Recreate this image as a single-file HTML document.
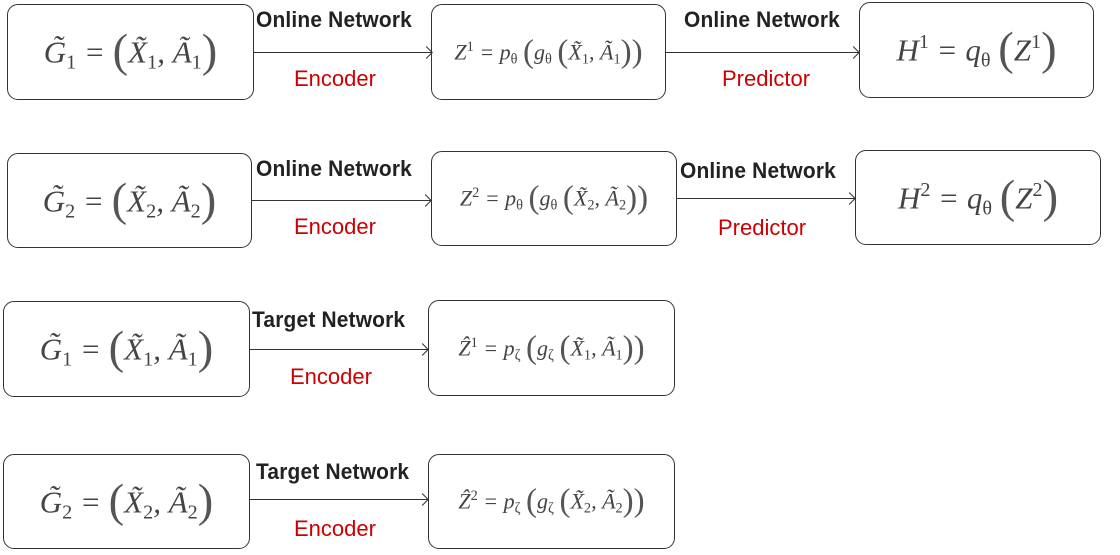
<!DOCTYPE html>
<html><head><meta charset="utf-8"><style>
body{margin:0;width:1120px;height:555px;background:#fff;position:relative;overflow:hidden;font-family:"Liberation Sans",sans-serif}
.b{position:absolute;border:1.5px solid #333;border-radius:11px;box-sizing:border-box;display:flex;align-items:center;justify-content:center;font-family:"Liberation Serif","DejaVu Serif",serif;font-style:italic;color:#444;white-space:nowrap}
.b .p{font-style:normal;font-size:1.5em;font-weight:100;line-height:0.8;color:#555;vertical-align:-0.08em}
.b sub,.b sup{font-style:normal;font-size:0.65em;line-height:0}
.b sub{vertical-align:-0.3em}.b sup{vertical-align:0.6em}
.big{font-size:31px}.sm{font-size:22px}
.t{position:absolute;font-weight:bold;font-size:22px;color:#222;white-space:nowrap;letter-spacing:0.2px;transform:scaleX(0.95);transform-origin:left}
.r{position:absolute;font-size:22px;color:#c00;white-space:nowrap}
.a{position:absolute;height:1.3px;background:#333}
.a::after{content:"";position:absolute;top:-4px;width:8px;height:8px;border-top:1.3px solid #333;border-right:1.3px solid #333;transform:rotate(45deg);right:1px}
</style></head><body>

<div class="b big" style="left:7px;top:4px;width:247px;height:96px"><span>G̃<sub>1</sub> = <span class="p">(</span>X̃<sub>1</sub>, Ã<sub>1</sub><span class="p">)</span></span></div>
<div class="t" style="left:256px;top:7px">Online Network</div>
<div class="a" style="left:254px;top:52px;width:178px"></div>
<div class="r" style="left:294px;top:66px">Encoder</div>
<div class="b sm" style="left:431px;top:4px;width:235px;height:96px"><span>Z<sup>1</sup> = p<sub>θ</sub> <span class="p">(</span>g<sub>θ</sub> <span class="p">(</span>X̃<sub>1</sub>, Ã<sub>1</sub><span class="p">))</span></span></div>
<div class="t" style="left:684px;top:7px">Online Network</div>
<div class="a" style="left:666px;top:52px;width:193px"></div>
<div class="r" style="left:722px;top:66px">Predictor</div>
<div class="b big" style="left:859px;top:2px;width:235px;height:96px"><span>H<sup>1</sup> = q<sub>θ</sub> <span class="p">(</span>Z<sup>1</sup><span class="p">)</span></span></div>

<div class="b big" style="left:7px;top:153px;width:245px;height:95px"><span>G̃<sub>2</sub> = <span class="p">(</span>X̃<sub>2</sub>, Ã<sub>2</sub><span class="p">)</span></span></div>
<div class="t" style="left:256px;top:156px">Online Network</div>
<div class="a" style="left:252px;top:200px;width:179px"></div>
<div class="r" style="left:294px;top:214px">Encoder</div>
<div class="b sm" style="left:431px;top:151px;width:246px;height:95px"><span>Z<sup>2</sup> = p<sub>θ</sub> <span class="p">(</span>g<sub>θ</sub> <span class="p">(</span>X̃<sub>2</sub>, Ã<sub>2</sub><span class="p">))</span></span></div>
<div class="t" style="left:680px;top:158px">Online Network</div>
<div class="a" style="left:677px;top:198px;width:178px"></div>
<div class="r" style="left:718px;top:215px">Predictor</div>
<div class="b big" style="left:855px;top:150px;width:246px;height:95px"><span>H<sup>2</sup> = q<sub>θ</sub> <span class="p">(</span>Z<sup>2</sup><span class="p">)</span></span></div>

<div class="b big" style="left:3px;top:301px;width:247px;height:96px"><span>G̃<sub>1</sub> = <span class="p">(</span>X̃<sub>1</sub>, Ã<sub>1</sub><span class="p">)</span></span></div>
<div class="t" style="left:252px;top:307px">Target Network</div>
<div class="a" style="left:250px;top:349px;width:178px"></div>
<div class="r" style="left:290px;top:364px">Encoder</div>
<div class="b sm" style="left:428px;top:300px;width:247px;height:96px"><span>Ẑ<sup>1</sup> = p<sub>ζ</sub> <span class="p">(</span>g<sub>ζ</sub> <span class="p">(</span>X̃<sub>1</sub>, Ã<sub>1</sub><span class="p">))</span></span></div>

<div class="b big" style="left:3px;top:454px;width:247px;height:95px"><span>G̃<sub>2</sub> = <span class="p">(</span>X̃<sub>2</sub>, Ã<sub>2</sub><span class="p">)</span></span></div>
<div class="t" style="left:256px;top:459px">Target Network</div>
<div class="a" style="left:250px;top:499px;width:178px"></div>
<div class="r" style="left:294px;top:516px">Encoder</div>
<div class="b sm" style="left:428px;top:454px;width:247px;height:95px"><span>Ẑ<sup>2</sup> = p<sub>ζ</sub> <span class="p">(</span>g<sub>ζ</sub> <span class="p">(</span>X̃<sub>2</sub>, Ã<sub>2</sub><span class="p">))</span></span></div>

</body></html>
